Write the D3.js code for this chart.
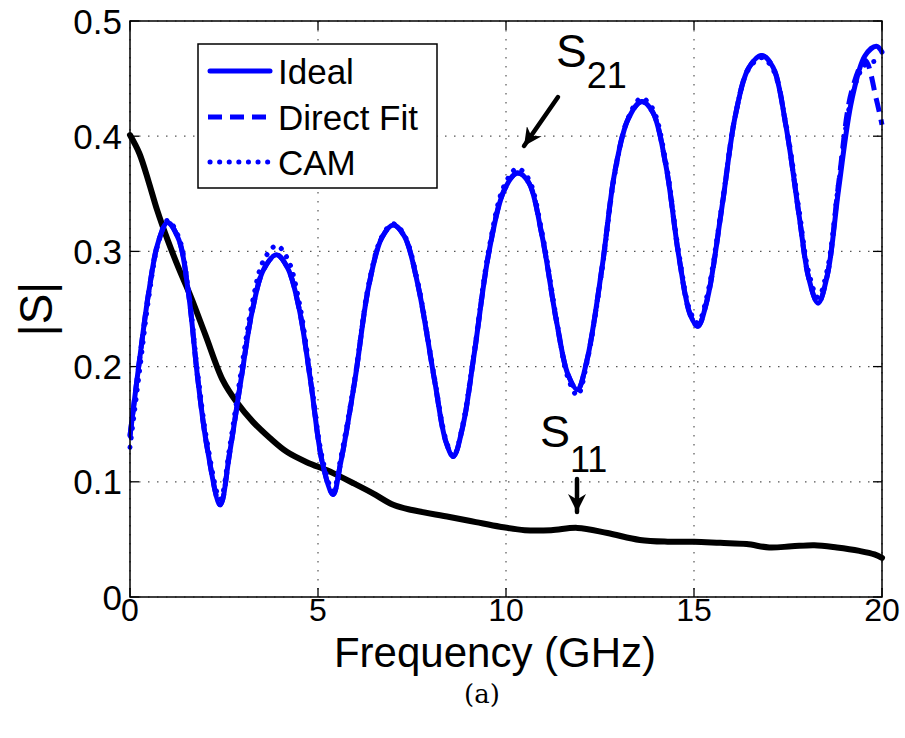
<!DOCTYPE html>
<html>
<head>
<meta charset="utf-8">
<script src="https://cdn.jsdelivr.net/npm/d3@7"></script>
<style>
  html, body { margin: 0; padding: 0; background: #fff; }
  svg { display: block; }
  text { font-family: "Liberation Sans", Arial, Helvetica, sans-serif; fill: #000; }
</style>
</head>
<body>
<svg id="chart" width="905" height="738"></svg>
<script>
// ---------------- data ----------------
const xTicks = [0, 5, 10, 15, 20];
const yTicks = [0, 0.1, 0.2, 0.3, 0.4, 0.5];
const xTickLabels = ["0", "5", "10", "15", "20"];
const yTickLabels = ["0", "0.1", "0.2", "0.3", "0.4", "0.5"];

const legendLabels = ["Ideal", "Direct Fit", "CAM"];

// S21 frequency samples (GHz)
const s21Freq = [0, 0.25, 0.5, 0.75, 1.0, 1.3, 1.55, 1.8, 2.05, 2.4, 2.65, 2.95, 3.25, 3.55, 3.9,
  4.2, 4.5, 4.8, 5.12, 5.4, 5.6, 5.98, 6.35, 6.7, 7.0, 7.3, 7.65, 8.1, 8.4, 8.6, 8.85, 9.15,
  9.55, 9.95, 10.3, 10.6, 10.95, 11.35, 11.65, 11.9, 12.15, 12.55, 12.9, 13.25, 13.6, 13.9,
  14.25, 14.6, 14.9, 15.1, 15.35, 15.75, 16.1, 16.45, 16.8, 17.1, 17.45, 17.8, 18.05, 18.3,
  18.55, 18.85, 19.2, 19.55, 19.85, 20];

const s21Ideal = [0.14, 0.205, 0.265, 0.308, 0.325, 0.31, 0.265, 0.19, 0.13, 0.08, 0.125, 0.188, 0.248, 0.284, 0.297,
  0.285, 0.25, 0.188, 0.116, 0.089, 0.116, 0.188, 0.27, 0.312, 0.323, 0.313, 0.272, 0.188, 0.135, 0.122, 0.148, 0.21,
  0.30, 0.353, 0.368, 0.36, 0.315, 0.238, 0.193, 0.18, 0.205, 0.285, 0.37, 0.415, 0.43, 0.421,
  0.375, 0.295, 0.245, 0.235, 0.258, 0.34, 0.418, 0.459, 0.47, 0.46, 0.408, 0.33, 0.277, 0.255,
  0.28, 0.355, 0.432, 0.47, 0.478, 0.473];

const s21DirectFit = [0.14, 0.205, 0.265, 0.308, 0.325, 0.31, 0.265, 0.19, 0.13, 0.08, 0.125, 0.188, 0.248, 0.284, 0.297,
  0.285, 0.25, 0.188, 0.116, 0.089, 0.116, 0.188, 0.27, 0.312, 0.323, 0.313, 0.272, 0.188, 0.135, 0.122, 0.148, 0.21,
  0.30, 0.353, 0.368, 0.36, 0.315, 0.238, 0.193, 0.18, 0.205, 0.285, 0.37, 0.415, 0.43, 0.421,
  0.375, 0.295, 0.245, 0.235, 0.258, 0.34, 0.418, 0.459, 0.47, 0.46, 0.408, 0.33, 0.277, 0.255,
  0.28, 0.36, 0.44, 0.466, 0.432, 0.41];

const s21CAM = [0.13, 0.195, 0.26, 0.307, 0.327, 0.312, 0.268, 0.195, 0.135, 0.085, 0.13, 0.195, 0.255, 0.292, 0.305,
  0.293, 0.256, 0.192, 0.12, 0.092, 0.12, 0.19, 0.272, 0.313, 0.324, 0.314, 0.274, 0.19, 0.137, 0.122, 0.15, 0.212,
  0.303, 0.357, 0.372, 0.363, 0.318, 0.24, 0.19, 0.175, 0.203, 0.283, 0.368, 0.416, 0.433, 0.424,
  0.378, 0.298, 0.248, 0.238, 0.262, 0.342, 0.418, 0.458, 0.468, 0.458, 0.41, 0.335, 0.282, 0.26,
  0.285, 0.36, 0.435, 0.462, 0.465, 0.464];

// S11 samples
const s11Freq = [0, 0.25, 0.5, 0.72, 1.0, 1.3, 1.6, 2.0, 2.47, 2.84, 3.27, 3.72, 4.17, 4.7, 5.24, 5.5,
  5.93, 6.46, 7.0, 7.5, 8.5, 9.2, 9.84, 10.5, 11.2, 11.9, 12.7, 13.56, 14.3, 15.0, 15.7, 16.4,
  17.0, 17.6, 18.2, 18.8, 19.4, 19.8, 20];
const s11Vals = [0.401, 0.385, 0.36, 0.336, 0.31, 0.285, 0.262, 0.228, 0.188, 0.169, 0.152, 0.138, 0.126, 0.117, 0.11, 0.106,
  0.099, 0.09, 0.08, 0.0755, 0.0695, 0.065, 0.061, 0.058, 0.058, 0.06, 0.0555, 0.0495, 0.048, 0.048, 0.047, 0.046,
  0.043, 0.044, 0.045, 0.043, 0.04, 0.037, 0.034];

// ---------------- layout ----------------
const svg = d3.select("#chart");
const M = { left: 130, top: 21, right: 882, bottom: 597 };
const x = d3.scaleLinear().domain([0, 20]).range([M.left, M.right]);
const y = d3.scaleLinear().domain([0, 0.5]).range([M.bottom, M.top]);

// grid
const grid = svg.append("g").attr("stroke", "#555").attr("stroke-width", 1.2)
  .attr("stroke-dasharray", "1.5,7.5");
xTicks.forEach(t => grid.append("line").attr("x1", x(t)).attr("x2", x(t))
  .attr("y1", M.top).attr("y2", M.bottom));
yTicks.forEach(t => grid.append("line").attr("y1", y(t)).attr("y2", y(t))
  .attr("x1", M.left).attr("x2", M.right));

// ticks (inward, all four sides)
const tl = 9;
const ticks = svg.append("g").attr("stroke", "#000").attr("stroke-width", 1.3);
xTicks.forEach(t => {
  ticks.append("line").attr("x1", x(t)).attr("x2", x(t)).attr("y1", M.bottom).attr("y2", M.bottom - tl);
  ticks.append("line").attr("x1", x(t)).attr("x2", x(t)).attr("y1", M.top).attr("y2", M.top + tl);
});
yTicks.forEach(t => {
  ticks.append("line").attr("y1", y(t)).attr("y2", y(t)).attr("x1", M.left).attr("x2", M.left + tl);
  ticks.append("line").attr("y1", y(t)).attr("y2", y(t)).attr("x1", M.right).attr("x2", M.right - tl);
});

// curves
const curve = d3.curveCatmullRom.alpha(0.5);
const line = d3.line().x(d => x(d[0])).y(d => y(d[1])).curve(curve);
const zip = (a, b) => a.map((v, i) => [v, b[i]]);

const blue = "#0000ff";
const plot = svg.append("g").attr("fill", "none").attr("stroke-linecap", "round");

plot.append("path").datum(zip(s11Freq, s11Vals)).attr("d", line)
  .attr("stroke", "#000").attr("stroke-width", 6);

plot.append("path").datum(zip(s21Freq, s21CAM)).attr("d", line)
  .attr("stroke", blue).attr("stroke-width", 5).attr("stroke-dasharray", "0.1,9.5");
plot.append("path").datum(zip(s21Freq, s21DirectFit)).attr("d", line)
  .attr("stroke", blue).attr("stroke-width", 5).attr("stroke-dasharray", "14,8")
  .attr("stroke-linecap", "butt");
plot.append("path").datum(zip(s21Freq, s21Ideal)).attr("d", line)
  .attr("stroke", blue).attr("stroke-width", 5);

// frame
svg.append("rect").attr("x", M.left).attr("y", M.top)
  .attr("width", M.right - M.left).attr("height", M.bottom - M.top)
  .attr("fill", "none").attr("stroke", "#000").attr("stroke-width", 1.5);

// tick labels
svg.append("g").selectAll("text").data(xTicks).join("text")
  .attr("x", d => x(d)).attr("y", 621).attr("text-anchor", "middle")
  .attr("font-size", 32).text((d, i) => xTickLabels[i]);
svg.append("g").selectAll("text").data(yTicks).join("text")
  .attr("x", 122).attr("y", d => y(d)).attr("dy", "0.36em").attr("text-anchor", "end")
  .attr("font-size", 35).text((d, i) => yTickLabels[i]);

// axis labels
svg.append("text").attr("x", 495).attr("y", 667).attr("text-anchor", "middle")
  .attr("font-size", 42).text("Frequency (GHz)");
svg.append("text").attr("transform", "translate(52,309) rotate(-90)")
  .attr("text-anchor", "middle").attr("font-size", 46).text("|S|");
svg.append("text").attr("x", 482).attr("y", 703).attr("text-anchor", "middle")
  .attr("font-size", 26).style("font-family", "'DejaVu Serif', 'Liberation Serif', serif").text("(a)");

// annotations
const defs = svg.append("defs");
defs.append("marker").attr("id", "ah").attr("viewBox", "0 0 10 10")
  .attr("refX", 10).attr("refY", 5).attr("markerWidth", 4).attr("markerHeight", 4)
  .attr("markerUnits", "strokeWidth").attr("orient", "auto")
  .append("path").attr("d", "M0,0 L10,5 L0,10 L3,5 Z").attr("fill", "#000");

svg.append("line").attr("x1", 558).attr("y1", 97).attr("x2", 524).attr("y2", 146)
  .attr("stroke", "#000").attr("stroke-width", 4.5).attr("stroke-linecap", "round")
  .attr("marker-end", "url(#ah)");
svg.append("line").attr("x1", 577).attr("y1", 479).attr("x2", 577).attr("y2", 512)
  .attr("stroke", "#000").attr("stroke-width", 4.5).attr("stroke-linecap", "round")
  .attr("marker-end", "url(#ah)");

const s21 = svg.append("text").attr("x", 556).attr("y", 67).attr("font-size", 46);
s21.append("tspan").text("S");
s21.append("tspan").attr("font-size", 36).attr("dy", 21).text("21");
const s11 = svg.append("text").attr("x", 540).attr("y", 447).attr("font-size", 45);
s11.append("tspan").text("S");
s11.append("tspan").attr("font-size", 36).attr("dy", 25).text("11");

// legend
const lg = svg.append("g");
lg.append("rect").attr("x", 198).attr("y", 44).attr("width", 239).attr("height", 144)
  .attr("fill", "#fff").attr("stroke", "#000").attr("stroke-width", 1.5);
const legendY = [71, 117, 162];
const dashes = [null, "14,8", "0.1,9.5"];
legendLabels.forEach((lab, i) => {
  const ln = lg.append("line").attr("x1", 210).attr("x2", 270)
    .attr("y1", legendY[i]).attr("y2", legendY[i])
    .attr("stroke", blue).attr("stroke-width", 5).attr("stroke-linecap", "round");
  if (dashes[i]) ln.attr("stroke-dasharray", dashes[i]);
  if (i === 1) ln.attr("stroke-linecap", "butt").attr("x1", 208).attr("x2", 272);
  lg.append("text").attr("x", 278).attr("y", legendY[i]).attr("dy", "0.36em")
    .attr("font-size", 35).text(lab);
});
</script>
</body>
</html>
